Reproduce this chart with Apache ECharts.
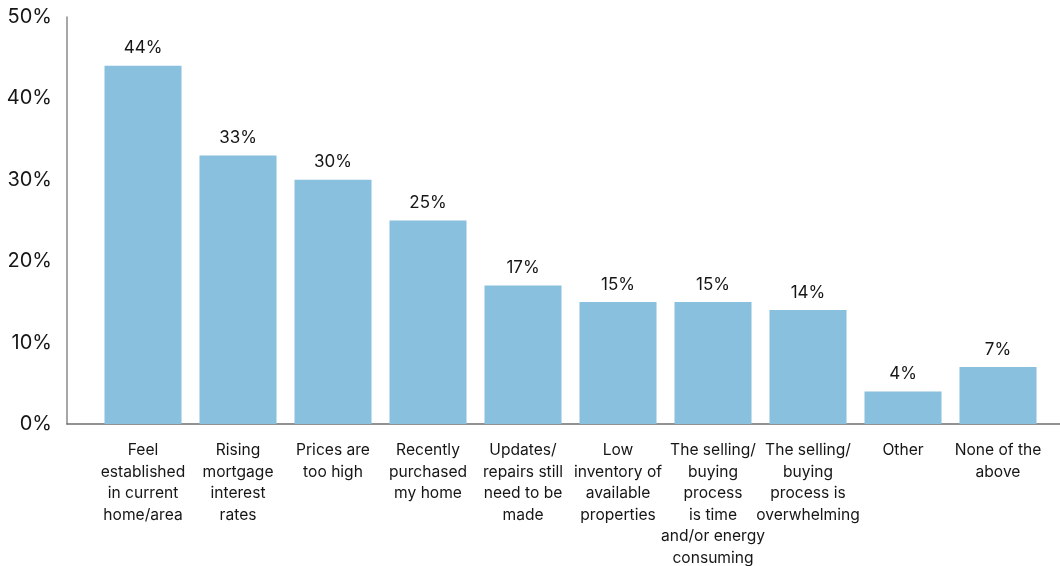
<!DOCTYPE html>
<html>
<head>
<meta charset="utf-8">
<style>
  html, body { margin: 0; padding: 0; background: #ffffff; }
  #chart { width: 1060px; height: 566px; }
</style>
<script src="https://cdn.jsdelivr.net/npm/echarts@6/dist/echarts.min.js"></script>
</head>
<body>
<div id="chart"></div>
<script>
// Reasons for staying in the current home (share of respondents)
const categories = [
  'Feel\nestablished\nin current\nhome/area',
  'Rising\nmortgage\ninterest\nrates',
  'Prices are\ntoo high',
  'Recently\npurchased\nmy home',
  'Updates/\nrepairs still\nneed to be\nmade',
  'Low\ninventory of\navailable\nproperties',
  'The selling/\nbuying\nprocess\nis time\nand/or energy\nconsuming',
  'The selling/\nbuying\nprocess is\noverwhelming',
  'Other',
  'None of the\nabove'
];
const shares = [44, 33, 30, 25, 17, 15, 15, 14, 4, 7];
const yTicks = [0, 10, 20, 30, 40, 50];

const FONT = 'Inter, "Liberation Sans", sans-serif';
const TEXT = '#161616';

const chart = echarts.init(document.getElementById('chart'), null, { renderer: 'canvas' });

chart.setOption({
  animation: false,
  backgroundColor: '#ffffff',
  grid: [
    // frame grid: carries the visible axis lines and percent labels
    { left: 67, right: 0, top: 17, bottom: 142, containLabel: false, outerBoundsMode: 'none' },
    // plot grid: carries the bars and category labels
    { left: 95.5, right: 14.5, top: 17, bottom: 142, containLabel: false, outerBoundsMode: 'none' }
  ],
  xAxis: [
    {
      type: 'value', gridIndex: 0, min: 0, max: 1,
      axisLine: { show: true, lineStyle: { color: '#6f6f6f', width: 1.5 } },
      axisTick: { show: false }, axisLabel: { show: false }, splitLine: { show: false }
    },
    {
      type: 'category', gridIndex: 1, data: categories,
      axisLine: { show: false }, axisTick: { show: false },
      axisLabel: {
        interval: 0, margin: 16, color: TEXT, fontFamily: FONT,
        fontSize: 15.6, lineHeight: 21.5, align: 'center', verticalAlign: 'top'
      }
    }
  ],
  yAxis: [
    {
      type: 'value', gridIndex: 0, min: yTicks[0], max: yTicks[yTicks.length - 1], interval: 10,
      axisLine: { show: true, lineStyle: { color: '#8a8a8a', width: 1.5 } },
      axisTick: { show: false }, splitLine: { show: false },
      axisLabel: {
        margin: 15, color: TEXT, fontFamily: FONT, fontSize: 20,
        formatter: v => v + '%'
      }
    },
    {
      type: 'value', gridIndex: 1, min: yTicks[0], max: yTicks[yTicks.length - 1], interval: 10,
      show: false
    }
  ],
  series: [
    {
      type: 'bar', xAxisIndex: 1, yAxisIndex: 1,
      data: shares, barWidth: 77,
      itemStyle: { color: '#88c0dd' },
      label: {
        show: true, position: 'top', distance: 9,
        color: TEXT, fontFamily: FONT, fontSize: 17,
        formatter: p => p.value + '%'
      }
    }
  ]
});
</script>
</body>
</html>
